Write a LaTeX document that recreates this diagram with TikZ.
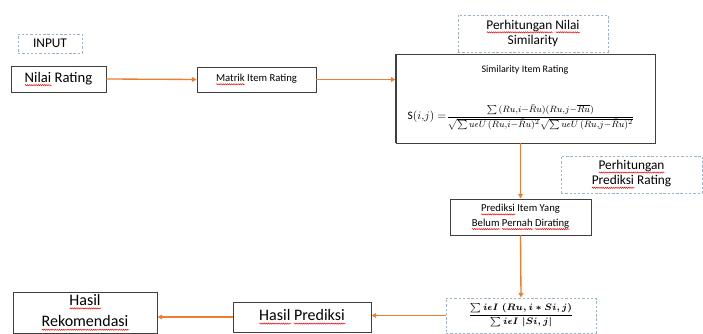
\documentclass[tikz,border=0pt]{standalone}
\usepackage{fontspec}
\setmainfont{Carlito}
\usepackage{amsmath}
\usepackage{graphicx}
\usetikzlibrary{arrows.meta,decorations.pathmorphing}

\definecolor{flow}{HTML}{ED7D31}
\definecolor{notecol}{HTML}{9DB3CF}
\definecolor{edgecol}{HTML}{3F3F3F}

% red wavy spell-check underline
\newlength{\spellwd}
\newcommand{\spell}[1]{\settowidth{\spellwd}{#1}\rlap{\raisebox{-2.2pt}{\tikz[baseline=0pt]\draw[red, line width=0.35pt, decorate, decoration={zigzag, amplitude=0.45pt, segment length=1.6pt}] (0pt,0pt) -- (\spellwd,0pt);}}#1}

\begin{document}
\begin{tikzpicture}[x=0.75pt,y=0.75pt]
			\tikzstyle{every node}+=[inner sep=0pt]
			\tikzstyle{box}=[draw=edgecol, line width=0.7pt, rectangle, align=center]
			\tikzstyle{notebox}=[draw=notecol, line width=0.6pt, dash pattern=on 1.8pt off 1.4pt, rectangle, align=center]
			\tikzstyle{link}=[draw=flow, line width=1pt, -{Triangle[length=3.5pt,width=3.5pt]}]
			\useasboundingbox (0,0) rectangle (703,-334);
			\node [notebox, minimum width=48pt, minimum height=14.25pt, font=\fontsize{10}{12}\selectfont] (input) at (50,-43.5) {INPUT};
			\node [box, minimum width=71.25pt, minimum height=19.5pt, font=\fontsize{11}{13}\selectfont] (nilai) at (58.5,-79) {\spell{Nilai} Rating};
			\node [box, minimum width=89.25pt, minimum height=18.75pt, font=\fontsize{8}{10}\selectfont] (matrik) at (256.5,-79.5) {\spell{Matrik} Item Rating};
			\node [box, minimum width=194.25pt, minimum height=66.75pt] (simbox) at (525.5,-98.5) {};
			\node [font=\fontsize{7.5}{9}\selectfont] (simtitle) at (525,-70) {Similarity Item Rating};
			\node [font=\fontsize{8}{10}\selectfont] (simform) at (521,-117) {\resizebox{170pt}{!}{\mbox{\fontsize{10}{12}\selectfont$\mathrm{S}(i{,}j)=$}$\dfrac{\sum\,(Ru{,}i{-}\bar{R}u)(Ru{,}j{-}\overline{Ru})}{\sqrt{\sum u\epsilon U\,(Ru{,}i{-}\bar{R}u)^2}\sqrt{\sum u\epsilon U\,(Ru{,}j{-}\bar{R}u)^2}}$}};
			\node [notebox, minimum width=112.5pt, minimum height=27.75pt, font=\fontsize{10}{11.5}\selectfont] (nilaisim) at (533,-33.5) {\spell{Perhitungan} \spell{Nilai}\\Similarity};
			\node [box, minimum width=105.75pt, minimum height=27pt, font=\fontsize{8}{11}\selectfont] (prediksi) at (520.5,-217) {\spell{Prediksi} Item Yang\\\spell{Belum} \spell{Pernah} \spell{Dirating}};
			\node [notebox, minimum width=105.75pt, minimum height=27.75pt, font=\fontsize{10}{11.5}\selectfont] (predrating) at (631.5,-174.5) {\spell{Perhitungan}\\\spell{Prediksi} Rating};
			\node [notebox, minimum width=112.5pt, minimum height=26.25pt, font=\fontsize{7}{9}\selectfont] (predform) at (521,-315.5) {$\boldsymbol{\dfrac{\sum i\epsilon I\;(Ru,i\ast Si,j)}{\sum i\epsilon I\;|Si,j|}}$};
			\node [box, minimum width=103.5pt, minimum height=22.5pt, font=\fontsize{12}{14}\selectfont] (hasilpred) at (302,-317) {\spell{Hasil} \spell{Prediksi}};
			\node [box, minimum width=108pt, minimum height=30.75pt, font=\fontsize{12}{16}\selectfont] (rekom) at (85,-312.5) {\spell{Hasil}\\\spell{Rekomendasi}};
			\draw [edgecol, line width=1.4pt] (simbox.north west) -- (simbox.south west);
			\draw [link] (nilai.east) -- (matrik.west);
			\draw [link] (matrik.east) -- (matrik.east -| simbox.west);
			\draw [link] (simbox.south -| prediksi.north) -- (prediksi.north);
			\draw [link] (prediksi.south) -- (predform.north);
			\draw [link] (predform.west) -- (predform.west -| hasilpred.east);
			\draw [link] (hasilpred.west) -- (hasilpred.west -| rekom.east);
		\end{tikzpicture}
\end{document}
